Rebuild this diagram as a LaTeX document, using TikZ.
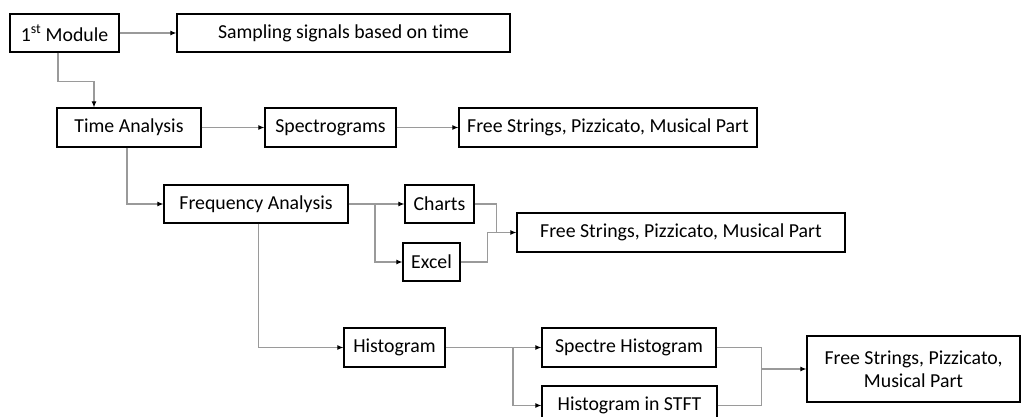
\documentclass[tikz,border=0pt]{standalone}
\usepackage{fontspec}
\setmainfont{Carlito}[Ligatures=NoCommon]
\usetikzlibrary{arrows.meta,positioning}
\definecolor{wire}{HTML}{9A9A9A}

\begin{document}
\begin{tikzpicture}[
   x=1pt, y=1pt,
   font=\fontsize{19.8}{23}\selectfont,
   box/.style={draw=black, line width=1.2pt, fill=white, align=center,
               inner sep=0pt, minimum height=38pt},
   fwd/.style={-{Latex[length=6pt,width=5pt,color=black]}, line width=1.1pt, color=wire},
   link/.style={line width=1.1pt, color=wire},
]
  \useasboundingbox (0,0) rectangle (1021,417);
  % top row
  \node[box, minimum width=109pt] (mod)  at (64.5,384) {1\textsuperscript{st} Module};
  \node[box, minimum width=333pt] (samp) at (343.5,384) {Sampling signals based on time};
  % time analysis
  \node[box, minimum width=144pt, minimum height=39pt] (time) at (129,289.5) {Time Analysis};
  \node[box, minimum width=131pt, minimum height=39pt] (spec) at (330.5,289.5) {Spectrograms};
  \node[box, minimum width=298pt, minimum height=39pt] (fsa)  at (608,289.5) {Free Strings, Pizzicato, Musical Part};
  % frequency analysis
  \node[box, minimum width=184pt] (freq)   at (256,213) {Frequency Analysis};
  \node[box, minimum width=69pt]  (charts) at (439.5,213) {Charts};
  \node[box, minimum width=57pt]  (excel)  at (431.5,155) {Excel};
  \node[box, minimum width=328pt, minimum height=39pt] (fsb) at (681,184.5) {Free Strings, Pizzicato, Musical Part};
  % histogram
  \node[box, minimum width=101pt, minimum height=39pt] (hist)  at (394.5,69.5) {Histogram};
  \node[box, minimum width=174pt, minimum height=39pt] (spech) at (629,69.5) {Spectre Histogram};
  \node[box, minimum width=175pt, minimum height=39pt] (stft)  at (629.5,11.5) {Histogram in STFT};
  \node[box, minimum width=213pt, minimum height=66pt] (fsc)   at (913.5,48) {Free Strings, Pizzicato,\\ Musical Part};

  \draw[fwd] (mod) -- (samp);
  \draw[fwd] ([xshift=-6.5pt]mod.south) -- ++(0,-29) -| ([xshift=-35pt]time.north);
  \draw[fwd] (time) -- (spec);
  \draw[fwd] (spec) -- (fsa);
  \draw[fwd] ([xshift=-2pt]time.south) |- (freq.west);

  \draw[fwd] (freq) -- (charts);
  \coordinate (fq) at (375,213);
  \draw[fwd] (fq) |- (excel.west);
  \coordinate (jb) at ([xshift=-29pt]fsb.west);
  \draw[link] (charts.east) -| ([xshift=-20pt]fsb.west) -- (jb);
  \draw[link] (excel.east) -| (jb);
  \draw[fwd] (jb) -- (fsb.west);

  \draw[fwd] ([xshift=2.5pt]freq.south) |- (hist.west);
  \draw[fwd] (hist) -- (spech);
  \coordinate (hb) at (513,69.5);
  \draw[fwd] (hb) |- (stft.west);
  \coordinate (jc) at ([xshift=-45pt]fsc.west);
  \draw[link] (spech.east) -| (jc);
  \draw[link] (stft.east) -| (jc);
  \draw[fwd] (jc) -- (fsc.west);
\end{tikzpicture}
\end{document}
